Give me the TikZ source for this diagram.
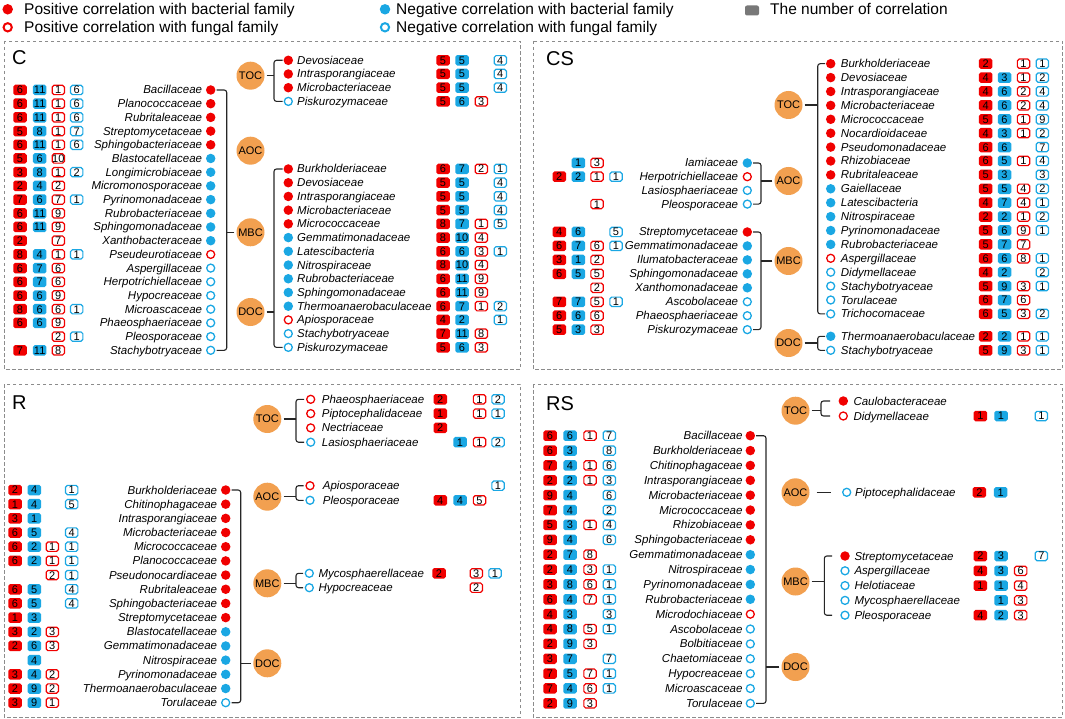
\documentclass[tikz,border=0pt]{standalone}
\usepackage{fontspec}
\setmainfont{Liberation Sans}
\definecolor{myred}{RGB}{240,0,0}
\definecolor{myblue}{RGB}{26,167,227}
\definecolor{myorange}{RGB}{242,160,80}
\definecolor{mygrey}{RGB}{120,120,120}
\newcounter{nn}
\tikzset{
 fam/.style={inner sep=0pt, font=\fontsize{11.5}{13}\selectfont\itshape, text=black},
 nbx/.style={rounded corners=1.8pt, minimum width=13.5pt, minimum height=10.5pt, inner sep=0pt, text height=7.9pt, text depth=0pt, font=\fontsize{11}{12}\selectfont},
 rf/.style={nbx, fill=myred},
 bf/.style={nbx, fill=myblue},
 ro/.style={nbx, draw=myred, line width=1.2pt, fill=white, minimum width=12.3pt, minimum height=9.3pt},
 bo/.style={nbx, draw=myblue, line width=1.2pt, fill=white, minimum width=12.3pt, minimum height=9.3pt},
 rdot/.style={circle, fill=myred, minimum size=9.5pt, inner sep=0pt},
 bdot/.style={circle, fill=myblue, minimum size=9.5pt, inner sep=0pt},
 rring/.style={circle, draw=myred, line width=1.3pt, minimum size=8pt, inner sep=0pt},
 bring/.style={circle, draw=myblue, line width=1.3pt, minimum size=8pt, inner sep=0pt},
 hub/.style={circle, fill=myorange, minimum size=28pt, inner sep=0pt, font=\fontsize{11}{12}\selectfont},
 br/.style={draw=black!85, line width=1.1pt, rounded corners=2.5pt},
 panel/.style={draw=black!45, line width=0.9pt, dash pattern=on 3.5pt off 2.5pt},
 htext/.style={inner sep=0pt, font=\fontsize{15.5}{18}\selectfont},
 plabel/.style={inner sep=0pt, font=\fontsize{20}{22}\selectfont}
}
\newcommand\setcols[4]{\def\cA{#1}\def\cB{#2}\def\cC{#3}\def\cD{#4}}
\newcommand\setleft[2]{\def\tx{#1}\def\dx{#2}\def\tanc{base east}}
\newcommand\setright[2]{\def\dx{#1}\def\tx{#2}\def\tanc{base west}}
\newcommand\startlist[2]{\def\ry{#1}\def\rdy{#2}}
\newcommand\nb[4]{\if\relax\detokenize{#4}\relax\else\stepcounter{nn}\node[#3] (b\arabic{nn}) at (#1,#2) {#4};\fi}
\newcommand\fr[6]{%
 \stepcounter{nn}\node[fam,anchor=\tanc] (t\arabic{nn}) at (\tx,\ry+4) {#1};
 \node[#2] (d\arabic{nn}) at (\dx,\ry) {};
 \nb{\cA}{\ry}{rf}{#3}\nb{\cB}{\ry}{bf}{#4}\nb{\cC}{\ry}{ro}{#5}\nb{\cD}{\ry}{bo}{#6}%
 \pgfmathsetmacro\ry{\ry+\rdy}}
\newcommand\brk[5]{%
 \draw[br] (#2,#4) -- (#3,#4) -- (#3,#5) -- (#2,#5);
 \coordinate (#1bx) at (#3,0);
 \draw[br, shorten <=2pt] (#1) -- (#1 -| #1bx);}
\begin{document}
\begin{tikzpicture}[x=1pt,y=-1pt]
\useasboundingbox (0,0) rectangle (1065,719);
% legend
\node[rdot, minimum size=10.5pt] (l1) at (7.7,9.3) {};
\node[htext, anchor=base west] (l1t) at (24,14.2) {Positive correlation with bacterial family};
\node[rring, minimum size=8.3pt, line width=2pt] (l2) at (7.7,27.3) {};
\node[htext, anchor=base west] (l2t) at (24,32.3) {Positive correlation with fungal family};
\node[bdot, minimum size=10.5pt] (l3) at (385,9.3) {};
\node[htext, anchor=base west] (l3t) at (396,14.2) {Negative correlation with bacterial family};
\node[bring, minimum size=8.3pt, line width=2pt] (l4) at (385,27.3) {};
\node[htext, anchor=base west] (l4t) at (396,32.3) {Negative correlation with fungal family};
\node[fill=mygrey, rounded corners=2pt, minimum width=14pt, minimum height=10pt, inner sep=0pt] (l5) at (752,10.5) {};
\node[htext, anchor=base west] (l5t) at (770,14.2) {The number of correlation};
% panels
\draw[panel] (4,41) rectangle (520,369);
\draw[panel] (533,41) rectangle (1062,369);
\draw[panel] (4,384) rectangle (520,717);
\draw[panel] (533,384) rectangle (1062,717);
\node[plabel, anchor=west] (pC) at (12,58) {C};
\node[plabel, anchor=west] (pCS) at (546,59) {CS};
\node[plabel, anchor=west] (pR) at (12,403) {R};
\node[plabel, anchor=west] (pRS) at (546,404) {RS};
% hubs
\node[hub] (CTOC) at (250.5,75.7) {TOC};
\node[hub] (CAOC) at (250.5,150.7) {AOC};
\node[hub] (CMBC) at (250.5,232.3) {MBC};
\node[hub] (CDOC) at (250.5,312) {DOC};
\node[hub] (CSTOC) at (788.5,105) {TOC};
\node[hub] (CSAOC) at (788.5,181) {AOC};
\node[hub] (CSMBC) at (788.5,261) {MBC};
\node[hub] (CSDOC) at (788.5,343) {DOC};
\node[hub] (RTOC) at (267.3,419) {TOC};
\node[hub] (RAOC) at (267.3,496.7) {AOC};
\node[hub] (RMBC) at (267.3,583.3) {MBC};
\node[hub] (RDOC) at (267.3,663.3) {DOC};
\node[hub] (RSTOC) at (795.5,410.7) {TOC};
\node[hub] (RSAOC) at (795.5,492.3) {AOC};
\node[hub] (RSMBC) at (795.5,581.5) {MBC};
\node[hub] (RSDOC) at (795.5,667) {DOC};
% ===== C =====
\setcols{20}{39.7}{58.3}{76.7}\setleft{202.3}{210.7}\startlist{90}{13.7}
\fr{Bacillaceae}{rdot}{6}{11}{1}{6}
\fr{Planococcaceae}{rdot}{6}{11}{1}{6}
\fr{Rubritaleaceae}{rdot}{6}{11}{1}{6}
\fr{Streptomycetaceae}{rdot}{5}{8}{1}{7}
\fr{Sphingobacteriaceae}{rdot}{6}{11}{1}{6}
\fr{Blastocatellaceae}{bdot}{5}{6}{10}{}
\fr{Longimicrobiaceae}{bdot}{3}{8}{1}{2}
\fr{Micromonosporaceae}{bdot}{2}{4}{2}{}
\fr{Pyrinomonadaceae}{bdot}{7}{6}{7}{1}
\fr{Rubrobacteriaceae}{bdot}{6}{11}{9}{}
\fr{Sphingomonadaceae}{bdot}{6}{11}{9}{}
\fr{Xanthobacteraceae}{bdot}{2}{}{7}{}
\fr{Pseudeurotiaceae}{rring}{8}{4}{1}{1}
\fr{Aspergillaceae}{bring}{6}{7}{6}{}
\fr{Herpotrichiellaceae}{bring}{6}{7}{6}{}
\fr{Hypocreaceae}{bring}{6}{6}{9}{}
\fr{Microascaceae}{bring}{8}{6}{6}{1}
\fr{Phaeosphaeriaceae}{bring}{6}{6}{9}{}
\fr{Pleosporaceae}{bring}{}{}{2}{1}
\fr{Stachybotryaceae}{bring}{7}{11}{8}{}
\brk{CMBC}{216.5}{226.7}{90}{350.3}
\setcols{443}{462}{481.3}{500.3}\setright{288.3}{297}\startlist{60.3}{13.7}
\fr{Devosiaceae}{rdot}{5}{5}{}{4}
\fr{Intrasporangiaceae}{rdot}{5}{5}{}{4}
\fr{Microbacteriaceae}{rdot}{5}{5}{}{4}
\fr{Piskurozymaceae}{bring}{5}{6}{3}{}
\brk{CTOC}{282.5}{274}{60.3}{101.4}
\startlist{169}{13.72}
\fr{Burkholderiaceae}{rdot}{6}{7}{2}{1}
\fr{Devosiaceae}{rdot}{5}{5}{}{4}
\fr{Intrasporangiaceae}{rdot}{5}{5}{}{4}
\fr{Microbacteriaceae}{rdot}{5}{5}{}{4}
\fr{Micrococcaceae}{rdot}{8}{7}{1}{5}
\fr{Gemmatimonadaceae}{bdot}{8}{10}{4}{}
\fr{Latescibacteria}{bdot}{6}{6}{3}{1}
\fr{Nitrospiraceae}{bdot}{8}{10}{4}{}
\fr{Rubrobacteriaceae}{bdot}{6}{11}{9}{}
\fr{Sphingomonadaceae}{bdot}{6}{11}{9}{}
\fr{Thermoanaerobaculaceae}{bdot}{6}{7}{1}{2}
\fr{Apiosporaceae}{rring}{4}{2}{}{1}
\fr{Stachybotryaceae}{bring}{7}{11}{8}{}
\fr{Piskurozymaceae}{bring}{5}{6}{3}{}
\brk{CDOC}{282.5}{274}{169}{347.4}
% ===== CS =====
\setcols{559.3}{578.3}{597}{616}\setleft{738.3}{747.3}\startlist{163}{13.7}
\fr{Iamiaceae}{bdot}{}{1}{3}{}
\fr{Herpotrichiellaceae}{rring}{2}{2}{1}{1}
\fr{Lasiosphaeriaceae}{bring}{}{}{}{}
\fr{Pleosporaceae}{bring}{}{}{1}{}
\brk{CSAOC}{753}{761}{163}{204.1}
\startlist{232}{13.95}
\fr{Streptomycetaceae}{rdot}{4}{6}{}{5}
\fr{Gemmatimonadaceae}{bdot}{6}{7}{6}{1}
\fr{Ilumatobacteraceae}{bdot}{3}{1}{2}{}
\fr{Sphingomonadaceae}{bdot}{6}{5}{5}{}
\fr{Xanthomonadaceae}{bdot}{}{}{2}{}
\fr{Ascobolaceae}{bring}{7}{7}{5}{1}
\fr{Phaeosphaeriaceae}{bring}{6}{6}{6}{}
\fr{Piskurozymaceae}{bring}{5}{3}{3}{}
\brk{CSMBC}{753}{761}{232}{329.65}
\setcols{985.7}{1004.5}{1023.5}{1042.3}\setright{830.7}{840.7}\startlist{63.7}{13.9}
\fr{Burkholderiaceae}{rdot}{2}{}{1}{1}
\fr{Devosiaceae}{rdot}{4}{3}{1}{2}
\fr{Intrasporangiaceae}{rdot}{4}{6}{2}{4}
\fr{Microbacteriaceae}{rdot}{4}{6}{2}{4}
\fr{Micrococcaceae}{rdot}{5}{6}{1}{9}
\fr{Nocardioidaceae}{rdot}{4}{3}{1}{2}
\fr{Pseudomonadaceae}{rdot}{6}{6}{}{7}
\fr{Rhizobiaceae}{rdot}{6}{5}{1}{4}
\fr{Rubritaleaceae}{rdot}{5}{3}{}{3}
\fr{Gaiellaceae}{bdot}{5}{5}{4}{2}
\fr{Latescibacteria}{bdot}{4}{7}{4}{1}
\fr{Nitrospiraceae}{bdot}{2}{2}{1}{2}
\fr{Pyrinomonadaceae}{bdot}{5}{6}{9}{1}
\fr{Rubrobacteriaceae}{bdot}{5}{7}{7}{}
\fr{Aspergillaceae}{rring}{6}{6}{8}{1}
\fr{Didymellaceae}{bring}{4}{2}{}{2}
\fr{Stachybotryaceae}{bring}{5}{9}{3}{1}
\fr{Torulaceae}{bring}{6}{7}{6}{}
\fr{Trichocomaceae}{bring}{6}{5}{3}{2}
\brk{CSTOC}{825}{817.7}{63.7}{313.9}
\startlist{336.3}{14}
\fr{Thermoanaerobaculaceae}{bdot}{2}{2}{1}{1}
\fr{Stachybotryaceae}{bring}{5}{9}{3}{1}
\brk{CSDOC}{825}{817.7}{336.3}{350.3}
% ===== R =====
\setcols{15}{34.3}{52.3}{71.7}\setleft{217.3}{225.7}\startlist{490}{14.18}
\fr{Burkholderiaceae}{rdot}{2}{4}{}{1}
\fr{Chitinophagaceae}{rdot}{1}{4}{}{5}
\fr{Intrasporangiaceae}{rdot}{3}{1}{}{}
\fr{Microbacteriaceae}{rdot}{6}{5}{}{4}
\fr{Micrococcaceae}{rdot}{6}{2}{1}{1}
\fr{Planococcaceae}{rdot}{6}{2}{1}{1}
\fr{Pseudonocardiaceae}{rdot}{}{}{2}{1}
\fr{Rubritaleaceae}{rdot}{6}{5}{}{4}
\fr{Sphingobacteriaceae}{rdot}{6}{5}{}{4}
\fr{Streptomycetaceae}{rdot}{1}{3}{}{}
\fr{Blastocatellaceae}{bdot}{3}{2}{3}{}
\fr{Gemmatimonadaceae}{bdot}{2}{6}{3}{}
\fr{Nitrospiraceae}{bdot}{}{4}{}{}
\fr{Pyrinomonadaceae}{bdot}{3}{4}{2}{}
\fr{Thermoanaerobaculaceae}{bdot}{2}{9}{2}{}
\fr{Torulaceae}{bring}{3}{9}{1}{}
\brk{RDOC}{231.5}{240.7}{490}{702.7}
\setcols{440.3}{460}{479.5}{498}\setright{310.7}{321.7}\startlist{399.3}{14.3}
\fr{Phaeosphaeriaceae}{rring}{2}{}{1}{2}
\fr{Piptocephalidaceae}{rring}{1}{}{1}{1}
\fr{Nectriaceae}{rring}{2}{}{}{}
\fr{Lasiosphaeriaceae}{bring}{}{1}{1}{2}
\brk{RTOC}{304}{296}{399.3}{442.2}
\setright{310}{322.7}\startlist{485.7}{14.6}
\fr{Apiosporaceae}{rring}{}{}{}{1}
\fr{Pleosporaceae}{bring}{4}{4}{5}{}
\brk{RAOC}{303.5}{296}{485.7}{500.3}
\setcols{439}{458}{476.3}{495}\setright{309.3}{318.3}\startlist{573.3}{14.4}
\fr{Mycosphaerellaceae}{bring}{2}{}{3}{1}
\fr{Hypocreaceae}{bring}{}{}{2}{}
\brk{RMBC}{303}{296}{573.3}{587.7}
% ===== RS =====
\setcols{550}{570}{590}{609.3}\setleft{742.7}{750.3}\startlist{435.7}{14.87}
\fr{Bacillaceae}{rdot}{6}{6}{1}{7}
\fr{Burkholderiaceae}{rdot}{6}{3}{}{8}
\fr{Chitinophagaceae}{rdot}{7}{4}{1}{6}
\fr{Intrasporangiaceae}{rdot}{2}{2}{1}{3}
\fr{Microbacteriaceae}{rdot}{9}{4}{}{6}
\fr{Micrococcaceae}{rdot}{7}{4}{}{2}
\fr{Rhizobiaceae}{rdot}{5}{3}{1}{4}
\fr{Sphingobacteriaceae}{rdot}{9}{4}{}{6}
\fr{Gemmatimonadaceae}{bdot}{2}{7}{8}{}
\fr{Nitrospiraceae}{bdot}{2}{4}{3}{1}
\fr{Pyrinomonadaceae}{bdot}{3}{8}{6}{1}
\fr{Rubrobacteriaceae}{bdot}{6}{4}{7}{1}
\fr{Microdochiaceae}{rring}{4}{3}{}{3}
\fr{Ascobolaceae}{bring}{4}{8}{5}{1}
\fr{Bolbitiaceae}{bring}{2}{9}{3}{}
\fr{Chaetomiaceae}{bring}{3}{7}{}{7}
\fr{Hypocreaceae}{bring}{7}{5}{7}{1}
\fr{Microascaceae}{bring}{7}{4}{6}{1}
\fr{Torulaceae}{bring}{2}{9}{3}{}
\brk{RSDOC}{756}{766}{435.7}{703.4}
\setcols{980.3}{1001}{1020.7}{1041.3}\setright{843.3}{853.3}\startlist{401}{15}
\fr{Caulobacteraceae}{rdot}{}{}{}{}
\fr{Didymellaceae}{rring}{1}{1}{}{1}
\brk{RSTOC}{830}{821}{401}{416}
\setcols{979.3}{1000.7}{1020.7}{1041.3}\setright{846.7}{855}\startlist{492.3}{15}
\fr{Piptocephalidaceae}{bring}{2}{1}{}{}
\coordinate (RSAOCe) at (831,492.3);
\draw[br, shorten <=7pt] (RSAOC) -- (RSAOCe);
\setcols{980.3}{1001}{1020.7}{1041.3}\setright{845}{854.3}\startlist{556}{14.8}
\fr{Streptomycetaceae}{rdot}{2}{3}{}{7}
\fr{Aspergillaceae}{bring}{4}{3}{6}{}
\fr{Helotiaceae}{bring}{1}{1}{4}{}
\fr{Mycosphaerellaceae}{bring}{}{1}{3}{}
\fr{Pleosporaceae}{bring}{4}{2}{3}{}
\brk{RSMBC}{832}{824.3}{556}{615.2}
\end{tikzpicture}
\end{document}
